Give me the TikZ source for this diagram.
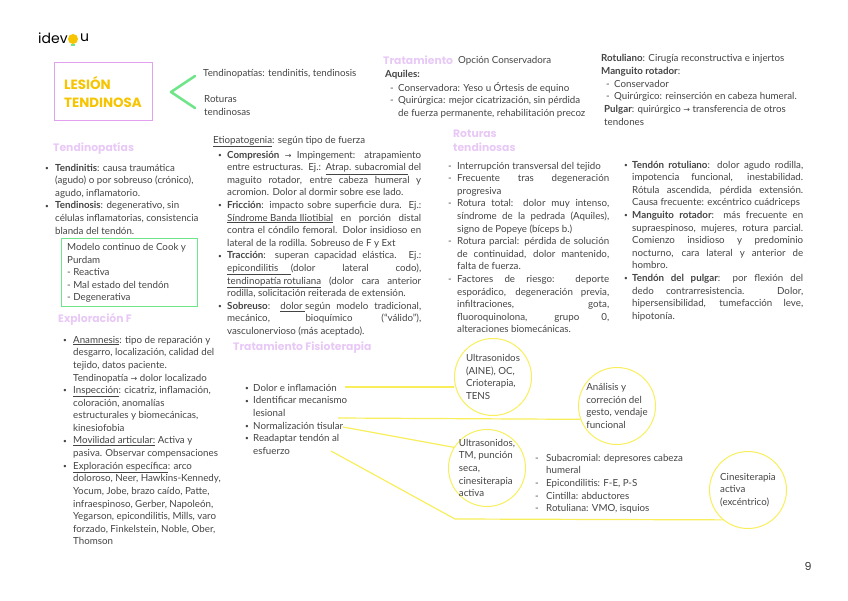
\documentclass[tikz,border=0pt]{standalone}
\usepackage{fontspec}
\usepackage{xcolor}
\usepackage{tikz}
\usetikzlibrary{arrows.meta,positioning}
\setmainfont{Lato}
\newfontfamily\headfont{Poppins}
\newfontfamily\arrowfont{DejaVu Sans}
\definecolor{inktext}{HTML}{444444}
\definecolor{headpink}{HTML}{E8C9F6}
\definecolor{boxpink}{HTML}{E2A0F0}
\definecolor{markgreen}{HTML}{6FE58A}
\definecolor{titleyellow}{HTML}{F6C400}
\definecolor{ringyellow}{HTML}{F8EE5C}
\newcommand{\goesto}{{\arrowfont\footnotesize →}}
\newlength{\listindent}
\newcommand{\bitem}[1]{\par\noindent\hangindent=\listindent\hangafter=1\hbox to \listindent{\strut\raisebox{0.8pt}{\fontsize{6.5}{6}\selectfont\textbullet}\hfil}#1\par}
\newcommand{\ditem}[1]{\par\noindent\hangindent=\listindent\hangafter=1\hbox to \listindent{\strut-\hfil}#1\par}
\newcommand{\rb}{\hfil\break}
\begin{document}
\begin{tikzpicture}[
  x=1pt,
  y=-1pt,
  bodytext/.style={font=\fontsize{9.75}{12.6}\selectfont, text=inktext, anchor=north west, inner sep=0pt},
  listtext/.style={bodytext, yshift=2pt, align=justify, execute at begin node={\tolerance=10000\hyphenpenalty=10000\setlength{\listindent}{#1}}},
  plaintext/.style={bodytext, yshift=-1pt, align=left},
  headtext/.style={font=\headfont\bfseries\fontsize{10.8}{14}\selectfont, text=headpink, anchor=west, inner sep=0pt},
  ringbox/.style={circle, draw=ringyellow, line width=1pt, minimum size=77pt, inner sep=-16pt, font=\fontsize{9.75}{12.6}\selectfont, text=inktext, align=left},
  ringline/.style={draw=ringyellow, line width=1.2pt}
]
\useasboundingbox (0,0) rectangle (848,601);

\node[font=\headfont\fontsize{14}{16}\selectfont, text=black, anchor=west, inner sep=0pt] (logoA) at (38,38) {idev};
\node[circle, fill=titleyellow, minimum size=10pt, inner sep=0pt] (logoBulb) at (73,39) {};
\fill[markgreen] (71,44) rectangle (75,46);
\node[font=\headfont\fontsize{14}{16}\selectfont, text=black, anchor=west, inner sep=0pt] (logoB) at (80,38) {u};

\node[draw=boxpink, line width=1pt, minimum width=98pt, minimum height=58pt, inner sep=0pt, text=titleyellow, align=left, font=\headfont\bfseries\fontsize{13.4}{18}\selectfont] (title) at (103,92) {LESIÓN\\TENDINOSA};
\draw[markgreen, line width=2.6pt, line cap=round, line join=round] (195,76) -- (171,92) -- (195,108);
\node[plaintext] (kindA) at (203,66.4) {\strut Tendinopatías: tendinitis, tendinosis};
\node[plaintext] (kindB) at (204,92.4) {\strut Roturas\\tendinosas};

\node[headtext] (headTendino) at (53,148) {Tendinopatías};
\node[listtext=10pt, text width=157pt] (listTendino) at (45,160.4) {%
\bitem{\textbf{Tendinitis}: causa traumática\rb (agudo) o por sobreuso (crónico),\rb agudo, inflamatorio.}
\bitem{\textbf{Tendinosis}: degenerativo, sin\rb células inflamatorias, consistencia\rb blanda del tendón.}};

\node[draw=markgreen, line width=1pt, minimum width=136pt, minimum height=68pt, inner sep=0pt] (cookBox) at (129,273) {};
\node[plaintext] (cookText) at (67,240.4) {\strut Modelo continuo de Cook y\\Purdam\\- Reactiva\\- Mal estado del tendón\\- Degenerativa};

\node[headtext] (headExplora) at (58,319) {Exploración F};
\node[listtext=10pt, text width=167pt] (listExplora) at (63,332.4) {%
\bitem{\underline{Anamnesis}: tipo de reparación y\rb desgarro, localización, calidad del\rb tejido, datos paciente.\rb Tendinopatía \goesto{} dolor localizado}
\bitem{\underline{Inspección}: cicatriz, inflamación,\rb coloración, anomalías\rb estructurales y biomecánicas,\rb kinesiofobia}
\bitem{\underline{Movilidad articular:} Activa y\rb pasiva. Observar compensaciones}
\bitem{\underline{Exploración específica}: arco\rb doloroso, Neer, Hawkins-Kennedy,\rb Yocum, Jobe, brazo caído, Patte,\rb infraespinoso, Gerber, Napoleón,\rb Yegarson, epicondilitis, Mills, varo\rb forzado, Finkelstein, Noble, Ober,\rb Thomson}};

\node[plaintext] (etioTitle) at (213,133.4) {\strut\underline{Etiopatogenia}: según tipo de fuerza};
\node[listtext=9pt, text width=203pt] (listEtio) at (218,147.4) {%
\bitem{\textbf{Compresión} \goesto{} Impingement: atrapamiento\break entre estructuras. Ej.: \underline{Atrap. subacromial }del\break maguito rotador, entre cabeza humeral y\break acromion. Dolor al dormir sobre ese lado.}
\bitem{\textbf{Fricción}: impacto sobre superficie dura. Ej.:\break \underline{Síndrome Banda Iliotibial} en porción distal\break contra el cóndilo femoral. Dolor insidioso en\break lateral de la rodilla. Sobreuso de F y Ext}
\bitem{\textbf{Tracción}: superan capacidad elástica. Ej.:\break \underline{epicondilitis~~~~~}(dolor lateral codo),\break \underline{tendinopatía rotuliana} (dolor cara anterior\break rodilla, solicitación reiterada de extensión.}
\bitem{\textbf{Sobreuso}: \underline{dolor }según modelo tradicional,\break mecánico, bioquímico (``válido''),\break vasculonervioso (más aceptado).}};

\node[headtext] (headFisio) at (233,348) {Tratamiento Fisioterapia};
\node[listtext=8pt, text width=114pt] (listFisio) at (245,380.4) {%
\bitem{Dolor e inflamación}
\bitem{Identificar mecanismo\rb lesional}
\bitem{Normalización tisular}
\bitem{Readaptar tendón al\rb esfuerzo}};

\node[headtext] (headTrata) at (383,60) {Tratamiento};
\node[plaintext] (trataSub) at (458,53.4) {\strut Opción Conservadora};
\node[plaintext] (aquiles) at (385,67.4) {\strut\textbf{Aquiles:}};
\node[listtext=8pt, text width=212pt] (listAquiles) at (390,80.4) {%
\ditem{Conservadora: Yeso u Órtesis de equino}
\ditem{Quirúrgica: mejor cicatrización, sin pérdida\rb de fuerza permanente, rehabilitación precoz}};

\node[plaintext] (rotuliano) at (601,51.4) {\strut\textbf{Rotuliano}: Cirugía reconstructiva e injertos\\\textbf{Manguito rotador}:};
\node[listtext=8pt, text width=212pt] (listManguito) at (606,76.4) {%
\ditem{Conservador}
\ditem{Quirúrgico: reinserción en cabeza humeral.}};
\node[plaintext] (pulgar) at (604,102.4) {\strut\textbf{Pulgar}: quirúrgico \goesto{} transferencia de otros\\tendones};

\node[headtext, align=left] (headRoturas) at (453,141) {Roturas\\tendinosas};
\node[listtext=9pt, text width=161pt] (listRoturas) at (448,158.4) {%
\ditem{Interrupción transversal del tejido}
\ditem{Frecuente tras degeneración\break progresiva}
\ditem{Rotura total: dolor muy intenso,\break síndrome de la pedrada (Aquiles),\break signo de Popeye (bíceps b.)}
\ditem{Rotura parcial: pérdida de solución\break de continuidad, dolor mantenido,\break falta de fuerza.}
\ditem{Factores de riesgo: deporte\break esporádico, degeneración previa,\break infiltraciones, gota,\break fluoroquinolona, grupo 0,\break alteraciones biomecánicas.}};

\node[listtext=8pt, text width=179pt] (listTendon) at (624,157.4) {%
\bitem{\textbf{Tendón rotuliano}: dolor agudo rodilla,\break impotencia funcional, inestabilidad.\break Rótula ascendida, pérdida extensión.\break Causa frecuente: excéntrico cuádriceps}
\bitem{\textbf{Manguito rotador}: más frecuente en\break supraespinoso, mujeres, rotura parcial.\break Comienzo insidioso y predominio\break nocturno, cara lateral y anterior de\break hombro.}
\bitem{\textbf{Tendón del pulgar}: por flexión del\break dedo contrarresistencia. Dolor,\break hipersensibilidad, tumefacción leve,\break hipotonía.}};

\node[ringbox] (ringUltra) at (493,377) {Ultrasonidos\\(AINE), OC,\\Crioterapia,\\TENS};
\node[ringbox] (ringPuncion) at (487,468) {Ultrasonidos,\\TM, punción\\seca,\\cinesiterapia\\activa};
\node[ringbox] (ringGesto) at (617,406) {Análisis y\\correción del\\gesto, vendaje\\funcional};
\node[ringbox] (ringActiva) at (748,490) {Cinesiterapia\\activa\\(excéntrico)};

\node[listtext=11pt, text width=157pt] (listActiva) at (535,450.4) {%
\ditem{Subacromial: depresores cabeza\rb humeral}
\ditem{Epicondilitis: F-E, P-S}
\ditem{Cintilla: abductores}
\ditem{Rotuliana: VMO, isquios}};

\coordinate (fromDolor) at (345,387);
\coordinate (fromIdent) at (338,418);
\coordinate (fromNormal) at (343,427);
\coordinate (fromAdapt) at (331,451);
\coordinate (bendAdapt) at (455,519);
\draw[ringline] (fromDolor) -- (fromDolor -| ringUltra.west);
\draw[ringline] (fromIdent) -- (ringGesto.200);
\draw[ringline] (fromNormal) -- (ringPuncion.148);
\draw[ringline] (fromAdapt) -- (bendAdapt) -- (ringActiva.230);

\node[font=\headfont\fontsize{11}{13}\selectfont, text=black!80, inner sep=0pt] (pageNumber) at (808,566) {9};
\end{tikzpicture}
\end{document}
